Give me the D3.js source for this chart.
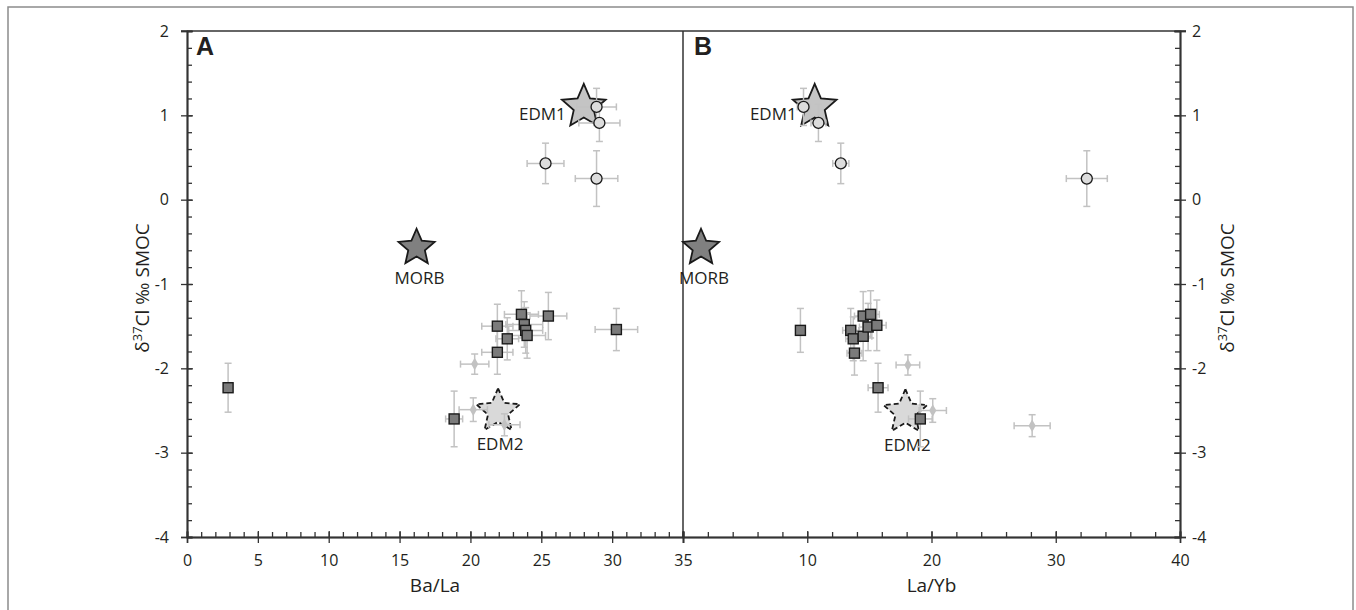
<!DOCTYPE html>
<html>
<head>
<meta charset="utf-8">
<script src="https://d3js.org/d3.v7.min.js"></script>
<style>
  body { margin: 0; background: #fff; }
  svg text { font-family: "Open Sans", "Noto Sans", sans-serif; fill: #231f20; }
</style>
</head>
<body>
<svg id="chart" width="1356" height="610"></svg>
<script>
// y axis (shared)
var yTicks = [-4, -3, -2, -1, 0, 1, 2];
var baLaTicks = [0, 5, 10, 15, 20, 25, 30, 35];
var laYbTicks = [10, 20, 30, 40];

// panel A : Ba/La  -> [x, y, xErr, yErr]
var circlesA = [[28.9, 1.1, 1.4, 0.22], [29.1, 0.91, 1.45, 0.22], [25.3, 0.43, 1.3, 0.24], [28.9, 0.25, 1.5, 0.33]];
var squaresA = [[2.9, -2.23, 0.2, 0.29], [18.85, -2.6, 0.6, 0.33], [21.9, -1.5, 1.1, 0.26], [21.9, -1.81, 1.1, 0.26],
                [22.6, -1.65, 0.8, 0.25], [23.6, -1.36, 1.2, 0.28], [23.8, -1.48, 1.3, 0.27], [23.9, -1.55, 1.2, 0.27],
                [24.0, -1.61, 1.3, 0.27], [25.5, -1.38, 1.3, 0.28], [30.3, -1.54, 1.5, 0.25]];
var diamondsA = [[20.3, -1.95, 1.0, 0.12], [20.2, -2.49, 1.0, 0.14], [22.4, -2.67, 1.1, 0.13]];
var starsA = [["EDM1", 28.0, 1.1], ["MORB", 16.2, -0.57], ["EDM2", 21.95, -2.51]];

// panel B : La/Yb
var circlesB = [[9.7, 1.1, 0.5, 0.22], [10.9, 0.91, 0.6, 0.22], [12.7, 0.43, 0.65, 0.24], [32.5, 0.25, 1.65, 0.33]];
var squaresB = [[9.45, -1.55, 0.2, 0.26], [13.5, -1.55, 0.65, 0.26], [13.7, -1.65, 0.6, 0.26], [13.8, -1.82, 0.6, 0.26],
                [14.5, -1.38, 0.7, 0.29], [14.5, -1.62, 0.7, 0.29], [15.1, -1.36, 0.7, 0.28], [14.9, -1.51, 0.7, 0.28],
                [15.6, -1.49, 0.75, 0.3], [15.7, -2.23, 0.8, 0.29], [19.1, -2.6, 0.95, 0.33]];
var diamondsB = [[18.1, -1.96, 0.95, 0.12], [20.1, -2.5, 1.1, 0.14], [28.1, -2.68, 1.45, 0.13]];
var starsB = [["EDM1", 10.6, 1.1], ["MORB", 1.45, -0.57], ["EDM2", 17.9, -2.52]];

var svg = d3.select("#chart");
var plotTop = 31, plotBottom = 537, plotLeft = 187, plotMid = 683, plotRight = 1180;

var y = d3.scaleLinear().domain([-4, 2]).range([plotBottom, plotTop]);
var xA = d3.scaleLinear().domain([0, 35]).range([plotLeft, plotMid]);
var xB = d3.scaleLinear().domain([0, 40]).range([plotMid, plotRight]);

// outer border
svg.append("rect").attr("x", 8).attr("y", 7).attr("width", 1345).attr("height", 620)
  .attr("fill", "none").attr("stroke", "#8c8c8c").attr("stroke-width", 1.5);

// frame: top line + divider
svg.append("line").attr("x1", plotLeft - 6).attr("x2", plotRight + 6).attr("y1", plotTop).attr("y2", plotTop)
  .attr("stroke", "#333").attr("stroke-width", 1.5);
svg.append("line").attr("x1", plotMid).attr("x2", plotMid).attr("y1", plotTop).attr("y2", plotBottom)
  .attr("stroke", "#333").attr("stroke-width", 1.5);

var fmt = function (d) { return String(d); };

function styleAxis(g) {
  g.selectAll("path.domain").attr("stroke", "#333").attr("stroke-width", 1.5);
  g.selectAll(".tick line").attr("stroke", "#333").attr("stroke-width", 1.3);
  g.selectAll("text").style("font-size", "16px").attr("fill", "#231f20");
}

var minorY = d3.range(-4, 2.01, 0.2);

// left y axis
svg.append("g").attr("transform", "translate(" + plotLeft + ",0)")
  .call(d3.axisLeft(y).tickValues(yTicks).tickSize(6).tickPadding(12).tickFormat(fmt))
  .call(styleAxis);
svg.append("g").attr("transform", "translate(" + plotLeft + ",0)")
  .call(d3.axisRight(y).tickValues(minorY).tickSize(5).tickFormat(""))
  .call(styleAxis);
svg.append("g").attr("transform", "translate(" + plotLeft + ",0)")
  .call(d3.axisRight(y).tickValues(yTicks).tickSize(6).tickFormat(""))
  .call(styleAxis);

// right y axis
svg.append("g").attr("transform", "translate(" + plotRight + ",0)")
  .call(d3.axisRight(y).tickValues(yTicks).tickSize(6).tickPadding(6).tickFormat(fmt))
  .call(styleAxis);
svg.append("g").attr("transform", "translate(" + plotRight + ",0)")
  .call(d3.axisLeft(y).tickValues(minorY).tickSize(5).tickFormat(""))
  .call(styleAxis);
svg.append("g").attr("transform", "translate(" + plotRight + ",0)")
  .call(d3.axisLeft(y).tickValues(yTicks).tickSize(6).tickFormat(""))
  .call(styleAxis);

// x axis A
svg.append("g").attr("transform", "translate(0," + plotBottom + ")")
  .call(d3.axisBottom(xA).tickValues(baLaTicks).tickSize(6).tickPadding(12).tickFormat(fmt))
  .call(styleAxis);
svg.append("g").attr("transform", "translate(0," + plotBottom + ")")
  .call(d3.axisTop(xA).tickValues(d3.range(0, 36, 1)).tickSize(5).tickFormat(""))
  .call(styleAxis);
svg.append("g").attr("transform", "translate(0," + plotBottom + ")")
  .call(d3.axisTop(xA).tickValues(baLaTicks).tickSize(6).tickFormat(""))
  .call(styleAxis);

// x axis B
svg.append("g").attr("transform", "translate(0," + plotBottom + ")")
  .call(d3.axisBottom(xB).tickValues(laYbTicks).tickSize(6).tickPadding(12).tickFormat(fmt))
  .call(styleAxis);
svg.append("g").attr("transform", "translate(0," + plotBottom + ")")
  .call(d3.axisTop(xB).tickValues(d3.range(0, 41, 2)).tickSize(5).tickFormat(""))
  .call(styleAxis);
svg.append("g").attr("transform", "translate(0," + plotBottom + ")")
  .call(d3.axisTop(xB).tickValues(laYbTicks).tickSize(6).tickFormat(""))
  .call(styleAxis);

// axis titles
svg.append("text").attr("x", xA(17.5)).attr("y", 592).attr("text-anchor", "middle")
  .style("font-size", "19px").text("Ba/La");
svg.append("text").attr("x", xB(20)).attr("y", 592).attr("text-anchor", "middle")
  .style("font-size", "19px").text("La/Yb");

function yTitle(cx) {
  var t = svg.append("text").attr("transform", "translate(" + cx + "," + ((plotTop + plotBottom) / 2 + 4) + ") rotate(-90)")
    .attr("text-anchor", "middle").style("font-size", "19px");
  t.append("tspan").text("δ");
  t.append("tspan").attr("dy", -7).style("font-size", "13px").text("37");
  t.append("tspan").attr("dy", 7).text("Cl ‰ SMOC");
}
yTitle(149);
yTitle(1234);

// panel letters
svg.append("text").attr("x", 196).attr("y", 55).style("font-family", "'Liberation Sans', Arial, sans-serif")
  .style("font-weight", "bold").style("font-size", "25px").text("A");
svg.append("text").attr("x", 694).attr("y", 55).style("font-family", "'Liberation Sans', Arial, sans-serif")
  .style("font-weight", "bold").style("font-size", "25px").text("B");

// star path
function starPath(R) {
  var pts = d3.range(10).map(function (i) {
    return [i * Math.PI / 5, i % 2 === 0 ? R : R * 0.46];
  });
  return d3.lineRadial().curve(d3.curveLinearClosed)(pts);
}

function drawPanel(x, circles, squares, diamonds, stars) {
  var g = svg.append("g");

  // stars
  stars.forEach(function (s) {
    var name = s[0], cx = x(s[1]), cy = y(s[2]);
    var R = name === "MORB" ? 19 : 23;
    var p = g.append("path").attr("d", starPath(R)).attr("transform", "translate(" + cx + "," + cy + ")")
      .attr("stroke", "#1a1a1a").attr("stroke-width", 1.8).attr("stroke-linejoin", "miter");
    if (name === "MORB") p.attr("fill", "#808080");
    else if (name === "EDM1") p.attr("fill", "#c4c4c4");
    else p.attr("fill", "#d9d9d9").attr("stroke-dasharray", "5,3");

    var lbl = g.append("text").style("font-size", "17px");
    if (name === "EDM1") lbl.attr("x", cx - 18).attr("y", cy + 13).attr("text-anchor", "end");
    else lbl.attr("x", cx + (name === "MORB" ? 3 : 2)).attr("y", cy + (name === "MORB" ? 36 : 39)).attr("text-anchor", "middle");
    lbl.text(name);
  });

  // error bars
  var all = circles.concat(squares).concat(diamonds);
  var eb = g.append("g").attr("stroke", "#c2c2c2").attr("stroke-width", 1.5);
  all.forEach(function (d) {
    var cx = x(d[0]), cy = y(d[1]);
    var x0 = x(d[0] - d[2]), x1 = x(d[0] + d[2]);
    var y0 = y(d[1] - d[3]), y1 = y(d[1] + d[3]);
    eb.append("line").attr("x1", x0).attr("x2", x1).attr("y1", cy).attr("y2", cy);
    eb.append("line").attr("x1", cx).attr("x2", cx).attr("y1", y0).attr("y2", y1);
    [x0, x1].forEach(function (v) {
      eb.append("line").attr("x1", v).attr("x2", v).attr("y1", cy - 3.5).attr("y2", cy + 3.5);
    });
    [y0, y1].forEach(function (v) {
      eb.append("line").attr("x1", cx - 3.5).attr("x2", cx + 3.5).attr("y1", v).attr("y2", v);
    });
  });

  // diamonds
  g.selectAll("path.dia").data(diamonds).enter().append("path").attr("class", "dia")
    .attr("d", d3.symbol(d3.symbolDiamond, 45))
    .attr("transform", function (d) { return "translate(" + x(d[0]) + "," + y(d[1]) + ")"; })
    .attr("fill", "#c2c2c2");

  // squares
  g.selectAll("rect.sq").data(squares).enter().append("rect").attr("class", "sq")
    .attr("x", function (d) { return x(d[0]) - 5; })
    .attr("y", function (d) { return y(d[1]) - 5; })
    .attr("width", 10).attr("height", 10)
    .attr("fill", "#7b7b7b").attr("stroke", "#1a1a1a").attr("stroke-width", 1.4);

  // circles
  g.selectAll("circle.ci").data(circles).enter().append("circle").attr("class", "ci")
    .attr("cx", function (d) { return x(d[0]); })
    .attr("cy", function (d) { return y(d[1]); })
    .attr("r", 5.5)
    .attr("fill", "#dcdcdc").attr("stroke", "#1a1a1a").attr("stroke-width", 1.3);
}

drawPanel(xA, circlesA, squaresA, diamondsA, starsA);
drawPanel(xB, circlesB, squaresB, diamondsB, starsB);
</script>
</body>
</html>
